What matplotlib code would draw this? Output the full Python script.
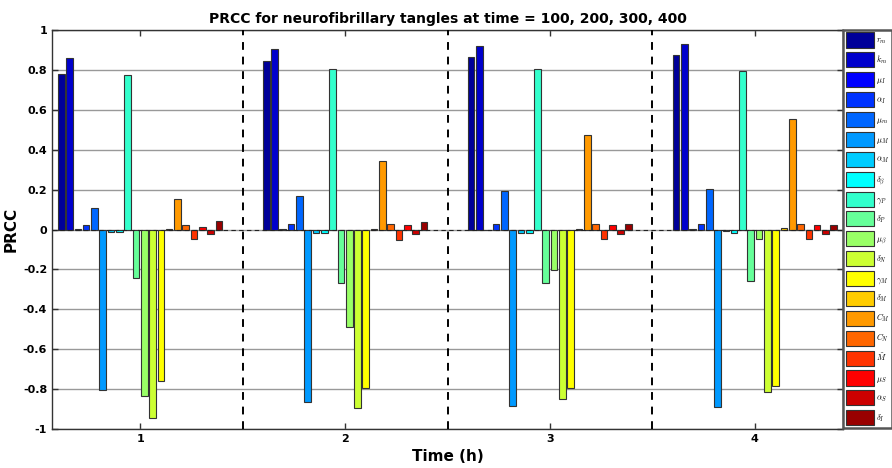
import numpy as np
import matplotlib
matplotlib.use("Agg")
import matplotlib.pyplot as plt
from matplotlib.patches import Patch

groups = [1, 2, 3, 4]
params = [r'$r_m$', r'$k_m$', r'$\mu_I$', r'$\alpha_I$', r'$\mu_m$', r'$\mu_M$', r'$\alpha_M$',
          r'$\delta_\beta$', r'$\gamma_P$', r'$\delta_P$', r'$\mu_\beta$', r'$\delta_N$',
          r'$\gamma_M$', r'$\delta_M$', r'$C_M$', r'$C_N$', r'$\tilde{M}$', r'$\mu_S$',
          r'$\alpha_S$', r'$\delta_I$']

prcc_t100 = [0.78, 0.862, 0.003, 0.024, 0.11, -0.806, -0.015, -0.013, 0.775, -0.245,
             -0.833, -0.943, -0.76, 0.003, 0.151, 0.024, -0.05, 0.011, -0.023, 0.045]
prcc_t200 = [0.845, 0.905, 0.003, 0.03, 0.167, -0.863, -0.02, -0.017, 0.806, -0.27,
             -0.489, -0.893, -0.793, 0.003, 0.343, 0.026, -0.051, 0.022, -0.024, 0.037]
prcc_t300 = [0.865, 0.922, -0.003, 0.03, 0.192, -0.884, -0.017, -0.018, 0.804, -0.267,
             -0.205, -0.851, -0.795, 0.003, 0.472, 0.03, -0.046, 0.025, -0.024, 0.03]
prcc_t400 = [0.875, 0.928, 0.003, 0.03, 0.204, -0.892, -0.01, -0.02, 0.795, -0.256,
             -0.046, -0.813, -0.783, 0.008, 0.552, 0.03, -0.046, 0.023, -0.024, 0.023]
data = np.array([prcc_t100, prcc_t200, prcc_t300, prcc_t400])

ytick_vals = [-1, -0.8, -0.6, -0.4, -0.2, 0, 0.2, 0.4, 0.6, 0.8, 1]
ytick_labels = ['-1', '-0.8', '-0.6', '-0.4', '-0.2', '0', '0.2', '0.4', '0.6', '0.8', '1']


def matlab_jet(m):
    n = int(np.ceil(m / 4))
    u = np.concatenate([np.arange(1, n + 1) / n, np.ones(n - 1), np.arange(n, 0, -1) / n])
    g = int(np.ceil(n / 2)) - (1 if m % 4 == 1 else 0) + np.arange(1, len(u) + 1)
    r = g + n
    b = g - n
    cmap = np.zeros((m, 3))
    for arr, ch in ((r, 0), (g, 1), (b, 2)):
        for idx, val in zip(arr, u):
            if 1 <= idx <= m:
                cmap[idx - 1, ch] = val
    return cmap


colors = matlab_jet(len(params))

plt.rcParams['mathtext.fontset'] = 'cm'
fig = plt.figure(figsize=(8.92, 4.68), dpi=100)
ax = fig.add_axes([52 / 892, 39 / 468, 791 / 892, 399 / 468])

nb = len(params)
pitch = 0.0405
width = pitch * 0.8
x = np.array(groups, dtype=float)
for i in range(nb):
    offs = (i - (nb - 1) / 2) * pitch
    ax.bar(x + offs, data[:, i], width=width, color=colors[i], edgecolor='#333333',
           linewidth=0.8, zorder=3)

ax.set_xlim(0.57, 4.43)
ax.set_ylim(-1, 1)
ax.set_yticks(ytick_vals)
ax.set_yticklabels(ytick_labels)
ax.set_xticks(groups)
ax.set_xticklabels([str(g) for g in groups])
ax.yaxis.grid(True, color='#999999', linewidth=1.0, zorder=0)
ax.set_axisbelow(True)
ax.axhline(0, color='#222222', linewidth=0.8, linestyle=(0, (4, 3)), zorder=4)
for s in [1.5, 2.5, 3.5]:
    ax.axvline(s, color='black', linestyle=(0, (4, 3.5)), linewidth=1.4, zorder=5)

ax.tick_params(axis='both', which='both', direction='in', labelsize=8, top=True, right=True,
               length=4, width=1, color='#333333')
for lbl in ax.get_xticklabels() + ax.get_yticklabels():
    lbl.set_fontweight('bold')
for sp in ax.spines.values():
    sp.set_color('#333333')
    sp.set_linewidth(1.0)

ax.set_title('PRCC for neurofibrillary tangles at time = 100, 200, 300, 400',
             fontsize=10, fontweight='bold', pad=5)
ax.set_xlabel('Time (h)', fontsize=11, fontweight='bold', labelpad=4)
ax.set_ylabel('PRCC', fontsize=11, fontweight='bold', labelpad=3)

handles = [Patch(facecolor=colors[i], edgecolor='#333333', linewidth=0.8) for i in range(nb)]
leg = fig.legend(handles, params, loc='upper left', bbox_to_anchor=(843 / 892, 1 - 30 / 468),
                 fontsize=6, handlelength=3.4, handleheight=2.4, labelspacing=0.58,
                 handletextpad=0.2, borderpad=0.3, borderaxespad=0, fancybox=False,
                 framealpha=1, edgecolor='#555555')
leg.get_frame().set_linewidth(1.8)

fig.savefig('out.png', dpi=100)
